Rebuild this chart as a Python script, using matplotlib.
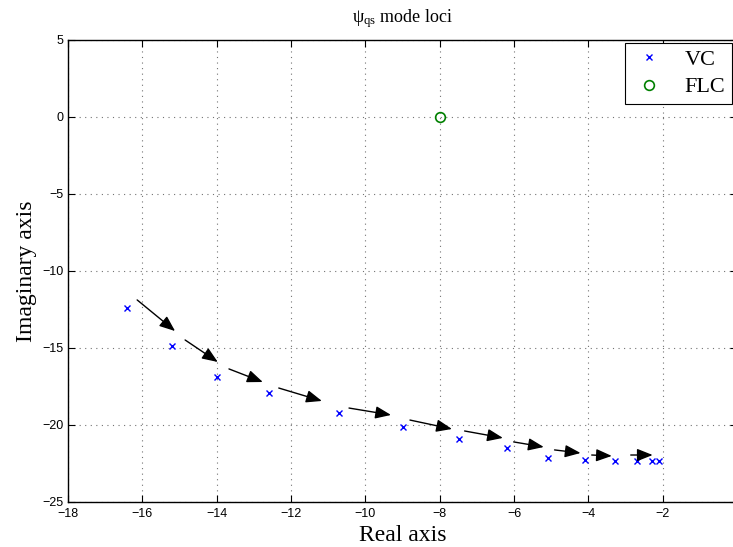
import matplotlib
matplotlib.use("Agg")
import matplotlib.pyplot as plt

# VC mode locus points (real, imaginary)
vc_re = [-16.42, -15.21, -14.00, -12.60, -10.70, -9.00, -7.49, -6.19,
         -5.09, -4.09, -3.28, -2.68, -2.30, -2.10]
vc_im = [-12.38, -14.85, -16.86, -17.90, -19.19, -20.11, -20.89, -21.49,
         -22.12, -22.27, -22.34, -22.36, -22.36, -22.36]

# FLC mode
flc_re = [-8.0]
flc_im = [0.0]

# direction arrows (tail -> head)
arr_x0 = [-16.14, -14.85, -13.67, -12.33, -10.44, -8.80, -7.33, -6.01, -4.91, -3.91, -2.86]
arr_y0 = [-11.88, -14.48, -16.36, -17.60, -18.90, -19.68, -20.39, -21.10, -21.62, -21.95, -21.95]
arr_x1 = [-15.12, -13.97, -12.76, -11.17, -9.31, -7.67, -6.30, -5.20, -4.21, -3.37, -2.27]
arr_y1 = [-13.90, -15.91, -17.21, -18.44, -19.35, -20.26, -20.84, -21.43, -21.82, -22.01, -21.95]

xticks = [-18, -16, -14, -12, -10, -8, -6, -4, -2]
yticks = [-25, -20, -15, -10, -5, 0, 5]

plt.rcParams["mathtext.fontset"] = "custom"
plt.rcParams["mathtext.rm"] = "Liberation Serif"
plt.rcParams["mathtext.it"] = "Liberation Serif:italic"

fig = plt.figure(figsize=(7.33, 5.47), dpi=100)
ax = fig.add_axes([0.0928, 0.0823, 0.9127, 0.8446])

ax.plot(vc_re, vc_im, "x", color="blue", markersize=5, markeredgewidth=1.0,
        label="VC", zorder=3)
ax.plot(flc_re, flc_im, "o", color=(0, 0.5, 0), markerfacecolor="none",
        markersize=7, markeredgewidth=1.2, label="FLC", zorder=3)

for x0, y0, x1, y1 in zip(arr_x0, arr_y0, arr_x1, arr_y1):
    ax.annotate("", xy=(x1, y1), xytext=(x0, y0),
                arrowprops=dict(arrowstyle="-|>,head_length=0.95,head_width=0.38",
                                color="black", lw=1.0, mutation_scale=10,
                                shrinkA=0, shrinkB=0))

ax.set_xlim(-18, 0)
ax.set_ylim(-25, 5)
ax.set_xticks(xticks)
ax.set_yticks(yticks)
ax.set_xticklabels([f"\u2212{abs(t)}" for t in xticks], family="Liberation Sans", fontsize=9)
ax.set_yticklabels([f"\u2212{abs(t)}" if t < 0 else str(t) for t in yticks],
                   family="Liberation Sans", fontsize=9)
ax.tick_params(direction="in", top=True, right=True, length=5, width=0.8)
ax.tick_params(axis="x", pad=4)
ax.tick_params(axis="y", pad=3)

ax.grid(True, linestyle=(0, (1, 4)), color="0.45", linewidth=0.8)
for s in ax.spines.values():
    s.set_linewidth(1.0)

ax.set_xlabel("Real axis", family="Liberation Serif", fontsize=17, labelpad=4)
ax.set_ylabel("Imaginary axis", family="Liberation Serif", fontsize=17, labelpad=4)
ax.set_title(r"$\mathrm{\psi_{qs}}$ mode loci", family="Liberation Serif",
             fontsize=13, pad=13)

leg = ax.legend(loc="upper right", bbox_to_anchor=(0.9925, 0.9935), borderaxespad=0,
                prop={"family": "Liberation Serif", "size": 16}, fancybox=False,
                framealpha=1, edgecolor="black", handlelength=1.6, handletextpad=0.8,
                borderpad=0.3, labelspacing=0.3)
leg.get_frame().set_linewidth(0.8)

fig.savefig("out.png", dpi=100)
